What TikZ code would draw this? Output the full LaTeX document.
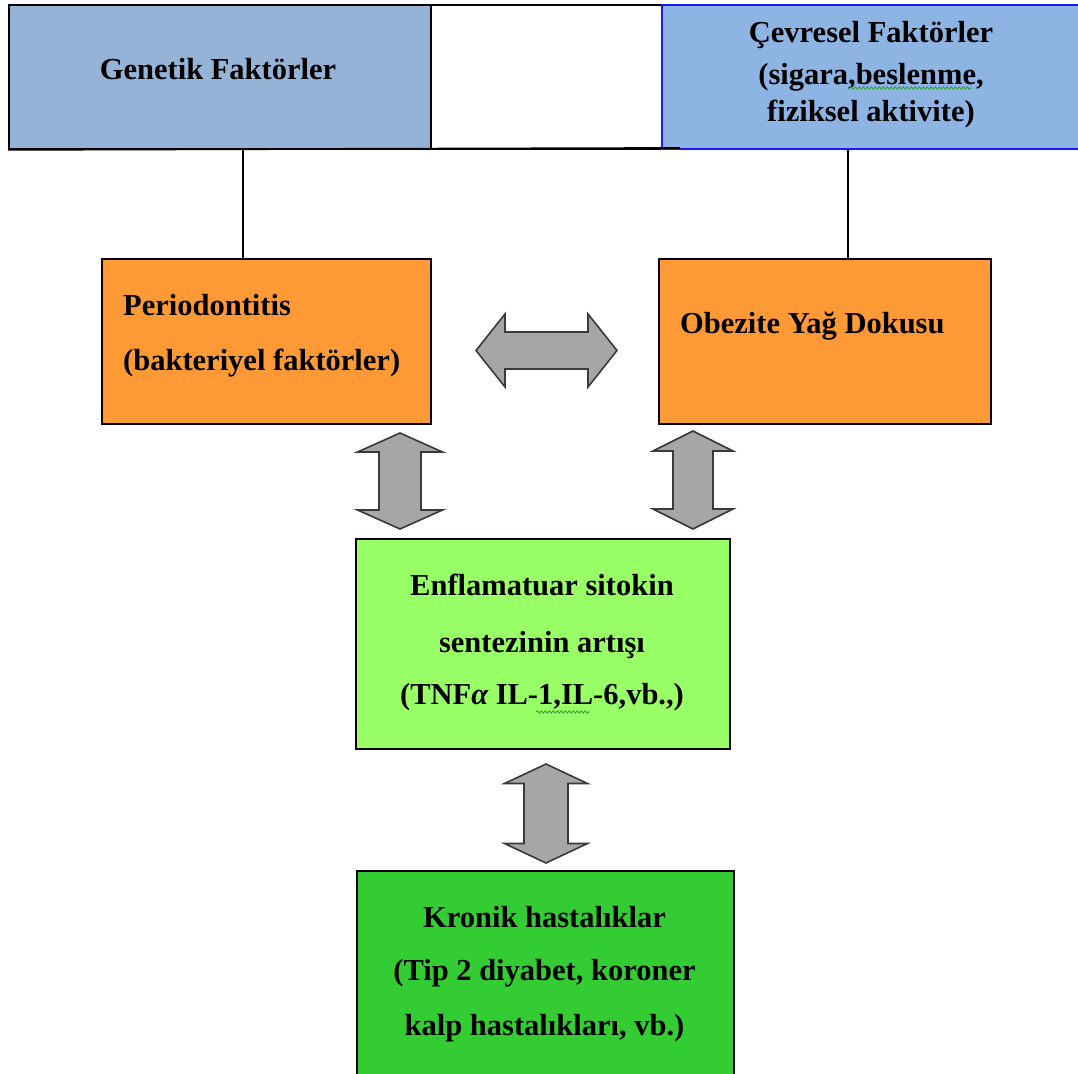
\documentclass[tikz,border=0pt]{standalone}
\usepackage{fontspec}
\setmainfont{Liberation Serif}
\usetikzlibrary{decorations.pathmorphing}

\definecolor{genblue}{HTML}{95B3D7}
\definecolor{envblue}{HTML}{8DB4E2}
\definecolor{edgeblue}{HTML}{1A1AF0}
\definecolor{boxorange}{HTML}{FD9A35}
\definecolor{lightgreen}{HTML}{99FF66}
\definecolor{darkgreen}{HTML}{33CC33}
\definecolor{arrowgray}{HTML}{A6A6A6}
\definecolor{arrowedge}{HTML}{3A3A3A}
\definecolor{spellgreen}{HTML}{2E9E2E}

% block double arrows: vertical (cx, ytop, ybottom, half head, half shaft, head length)
\newcommand\blockarrowV[6]{%
  \draw[blockarrow] (#1,#2) -- ({#1+#4},{#2+#6}) -- ({#1+#5},{#2+#6})
    -- ({#1+#5},{#3-#6}) -- ({#1+#4},{#3-#6}) -- (#1,#3)
    -- ({#1-#4},{#3-#6}) -- ({#1-#5},{#3-#6}) -- ({#1-#5},{#2+#6})
    -- ({#1-#4},{#2+#6}) -- cycle;}
% horizontal (cy, xleft, xright, half head, half shaft, head length)
\newcommand\blockarrowH[6]{%
  \draw[blockarrow] (#2,#1) -- ({#2+#6},{#1-#4}) -- ({#2+#6},{#1-#5})
    -- ({#3-#6},{#1-#5}) -- ({#3-#6},{#1-#4}) -- (#3,#1)
    -- ({#3-#6},{#1+#4}) -- ({#3-#6},{#1+#5}) -- ({#2+#6},{#1+#5})
    -- ({#2+#6},{#1+#4}) -- cycle;}

\begin{document}
\begin{tikzpicture}[x=1pt,y=-1pt,
  box/.style={draw=black, line width=1.8pt, inner sep=0pt, rectangle},
  lbl/.style={inner sep=0pt, font=\fontsize{30.5}{36}\selectfont\bfseries},
  blockarrow/.style={fill=arrowgray, draw=arrowedge, line width=1.6pt, line join=miter},
  wire/.style={draw=black, line width=1.3pt},
  spell/.style={draw=spellgreen, line width=0.8pt,
    decorate, decoration={snake, amplitude=1.2pt, segment length=4pt}}]

\useasboundingbox[fill=white] (0,0) rectangle (1078,1073);

% top band: genetic and environmental factors
\node[box, fill=white, minimum width=1080pt, minimum height=144pt, anchor=north west] (band) at (8,4) {};
\node[box, fill=genblue, minimum width=422pt, minimum height=144pt, anchor=north west] (gen) at (8,4) {};
\node[box, draw=edgeblue, fill=envblue, minimum width=421pt, minimum height=144pt, anchor=north west] (env) at (661,4) {};
\draw[line width=1.8pt] (band.south west) -- (680,148);

\node[lbl, anchor=base] (gen1) at (218,79) {Genetik Faktörler};
\node[lbl, anchor=base] (env1) at (871,43) {Çevresel Faktörler};
\node[lbl, anchor=base] (env2) at (871,84) {(sigara,beslenme,};
\node[lbl, anchor=base] (env3) at (871,121) {fiziksel aktivite)};
\draw[spell] (850,88) -- (972,88);

% middle row: periodontitis and adipose tissue
\node[box, fill=boxorange, minimum width=329pt, minimum height=165pt, anchor=north west] (per) at (101,258) {};
\node[box, fill=boxorange, minimum width=332pt, minimum height=165pt, anchor=north west] (obe) at (658,258) {};
\node[lbl, anchor=base west] (per1) at (123,315) {Periodontitis};
\node[lbl, anchor=base west] (per2) at (123,370) {(bakteriyel faktörler)};
\node[lbl, anchor=base west] (obe1) at (680,333) {Obezite Yağ Dokusu};

% connectors from the factors
\draw[wire] (gen.south -| 243,0) -- (per.north -| 243,0);
\draw[wire] (env.south -| 848,0) -- (obe.north -| 848,0);

% cytokine synthesis
\node[box, fill=lightgreen, minimum width=374pt, minimum height=210pt, anchor=north west] (cyt) at (355,538) {};
\node[lbl, anchor=base] (cyt1) at (542,595) {Enflamatuar sitokin};
\node[lbl, anchor=base] (cyt2) at (542,652) {sentezinin artışı};
\node[lbl, anchor=base] (cyt3) at (542,704) {(TNF{\itshape α} IL-1,IL-6,vb.,)};
\draw[spell] (536,712) -- (590,712);

% chronic diseases
\node[box, fill=darkgreen, minimum width=377pt, minimum height=215pt, anchor=north west] (kro) at (356,870) {};
\node[lbl, anchor=base] (kro1) at (544.5,927) {Kronik hastalıklar};
\node[lbl, anchor=base] (kro2) at (544.5,980) {(Tip 2 diyabet, koroner};
\node[lbl, anchor=base] (kro3) at (544.5,1035) {kalp hastalıkları, vb.)};

% two-way block arrows
\blockarrowH{350.5}{476}{617}{36.5}{18.5}{29}
\blockarrowV{400}{433}{529}{42.5}{21}{19}
\blockarrowV{693}{431}{529}{40}{20}{20}
\blockarrowV{546}{764}{863}{41.5}{22}{19.5}

\end{tikzpicture}
\end{document}
